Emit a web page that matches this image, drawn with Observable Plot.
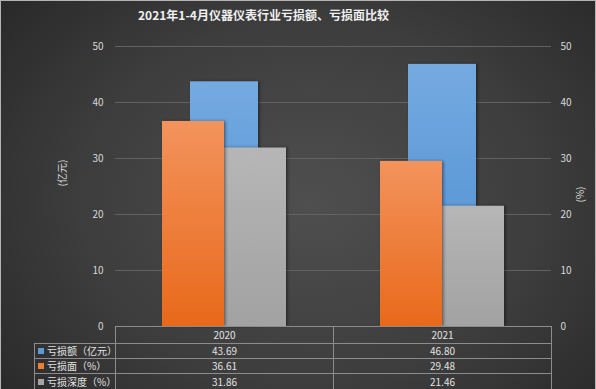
<!DOCTYPE html>
<html><head><meta charset="utf-8">
<script src="https://cdn.jsdelivr.net/npm/d3@7"></script>
<script src="https://cdn.jsdelivr.net/npm/@observablehq/plot@0.6"></script>
<style>
body{margin:0;background:#262626;}
#wrap{position:relative;width:596px;height:389px;overflow:hidden;
  background:radial-gradient(ellipse 70% 85% at 52% 52%, #4f4f4f 0%, #3d3d3d 55%, #272727 100%);
  font-family:"Noto Sans CJK SC","Noto Sans",sans-serif;}
#frame{position:absolute;left:0;top:0;width:596px;height:389px;box-sizing:border-box;border:1px solid #b4b4b4;border-bottom:none;pointer-events:none;}
#title{position:absolute;left:0;width:527px;top:7px;text-align:center;color:#f0f0f0;font-size:12px;font-weight:bold;white-space:nowrap;line-height:16px;}
#chart{position:absolute;left:0;top:0;}
.cell{position:absolute;box-sizing:border-box;border:1px solid #8c8c8c;color:#e2e2e2;font-size:10px;text-align:center;white-space:nowrap;overflow:hidden;}
.cell.lab{text-align:left;padding-left:3px;}
.sw{display:inline-block;width:6px;height:6px;margin-right:3px;vertical-align:1px;}
</style>
</head><body>
<div id="wrap">
  <div id="chart"></div>
  <div id="title">2021年1-4月仪器仪表行业亏损额、亏损面比较</div>
  <div id="tbl"></div>
  <div id="frame"></div>
</div>
<script>
const years = ["2020", "2021"];
const lossAmount = [43.69, 46.80];   // 亏损额（亿元）
const lossRatio = [36.61, 29.48];    // 亏损面（%）
const lossDepth = [31.86, 21.46];    // 亏损深度（%）
const yTicks = [0, 10, 20, 30, 40, 50];
const seriesNames = ["亏损额（亿元）", "亏损面（%）", "亏损深度（%）"];
const seriesColors = ["#5b9bd5", "#ed7d31", "#a5a5a5"];
const leftTitle = "(亿元)";
const rightTitle = "(%)";

const data = years.map((y, i) => ({year: y, amount: lossAmount[i], ratio: lossRatio[i], depth: lossDepth[i]}));

const plot = Plot.plot({
  width: 596, height: 389,
  marginTop: 46, marginBottom: 63, marginLeft: 115, marginRight: 45,
  style: {background: "transparent", color: "#d9d9d9", fontSize: "10px", fontFamily: '"Noto Sans CJK SC","Noto Sans",sans-serif'},
  x: {domain: years, padding: 0, axis: null},
  y: {domain: [0, 50], axis: null},
  marks: [
    Plot.gridY(yTicks.filter(d => d > 0), {stroke: "#626262", strokeOpacity: 1}),
    Plot.axisY(yTicks, {anchor: "left", tickSize: 0, tickPadding: 12, label: null}),
    Plot.axisY(yTicks, {anchor: "right", tickSize: 0, tickPadding: 9, label: null}),
    Plot.barY(data, {x: "year", y: "amount", fill: "url(#gBlue)", insetLeft: 75, insetRight: 75}),
    Plot.barY(data, {x: "year", y: "depth", fill: "url(#gGray)", insetLeft: 109, insetRight: 47}),
    Plot.barY(data, {x: "year", y: "ratio", fill: "url(#gOrange)", insetLeft: 47, insetRight: 109}),
    Plot.text([leftTitle], {frameAnchor: "left", dx: -53, rotate: -90, fill: "#d9d9d9", fontSize: 10}),
    Plot.text([rightTitle], {frameAnchor: "right", dx: 29, rotate: -90, fill: "#d9d9d9", fontSize: 10})
  ]
});

const ns = "http://www.w3.org/2000/svg";
const defs = document.createElementNS(ns, "defs");
function grad(id, c1, c2) {
  const g = document.createElementNS(ns, "linearGradient");
  g.setAttribute("id", id);
  g.setAttribute("x1", "0"); g.setAttribute("y1", "0");
  g.setAttribute("x2", "0"); g.setAttribute("y2", "1");
  [[0, c1], [1, c2]].forEach(([o, c]) => {
    const s = document.createElementNS(ns, "stop");
    s.setAttribute("offset", o); s.setAttribute("stop-color", c);
    g.appendChild(s);
  });
  defs.appendChild(g);
}
grad("gBlue", "#74aae0", "#4a8bd0");
grad("gOrange", "#f3935c", "#e8691b");
grad("gGray", "#b6b6b6", "#a2a2a2");
const f = document.createElementNS(ns, "filter");
f.setAttribute("id", "shadow");
f.setAttribute("x", "-20%"); f.setAttribute("y", "-20%");
f.setAttribute("width", "140%"); f.setAttribute("height", "140%");
const ds = document.createElementNS(ns, "feDropShadow");
ds.setAttribute("dx", "1.5"); ds.setAttribute("dy", "0");
ds.setAttribute("stdDeviation", "1.5"); ds.setAttribute("flood-opacity", "0.45");
f.appendChild(ds);
defs.appendChild(f);
plot.insertBefore(defs, plot.firstChild);
plot.querySelectorAll("rect").forEach(r => r.setAttribute("filter", "url(#shadow)"));
document.getElementById("chart").appendChild(plot);

// data table (cells placed on the same column grid as the chart bands)
const tbl = document.getElementById("tbl");
const colX = [34, 115, 333, 551];
const rowY = [326, 343, 358, 373, 390];
function cell(x0, x1, y0, y1, content, cls) {
  const d = document.createElement("div");
  d.className = "cell" + (cls ? " " + cls : "");
  d.style.left = x0 + "px"; d.style.width = (x1 - x0 + 1) + "px";
  d.style.top = y0 + "px"; d.style.height = (y1 - y0 + 1) + "px";
  d.style.lineHeight = (y1 - y0 - 1) + "px";
  if (typeof content === "string") d.textContent = content; else d.appendChild(content);
  tbl.appendChild(d);
}
years.forEach((y, j) => cell(colX[j + 1], colX[j + 2], rowY[0], rowY[1], y));
[lossAmount, lossRatio, lossDepth].forEach((vals, i) => {
  const frag = document.createDocumentFragment();
  const sw = document.createElement("span"); sw.className = "sw"; sw.style.background = seriesColors[i];
  frag.appendChild(sw); frag.appendChild(document.createTextNode(seriesNames[i]));
  cell(colX[0], colX[1], rowY[i + 1], rowY[i + 2], frag, "lab");
  vals.forEach((v, j) => cell(colX[j + 1], colX[j + 2], rowY[i + 1], rowY[i + 2], v.toFixed(2)));
});
</script>
</body></html>
